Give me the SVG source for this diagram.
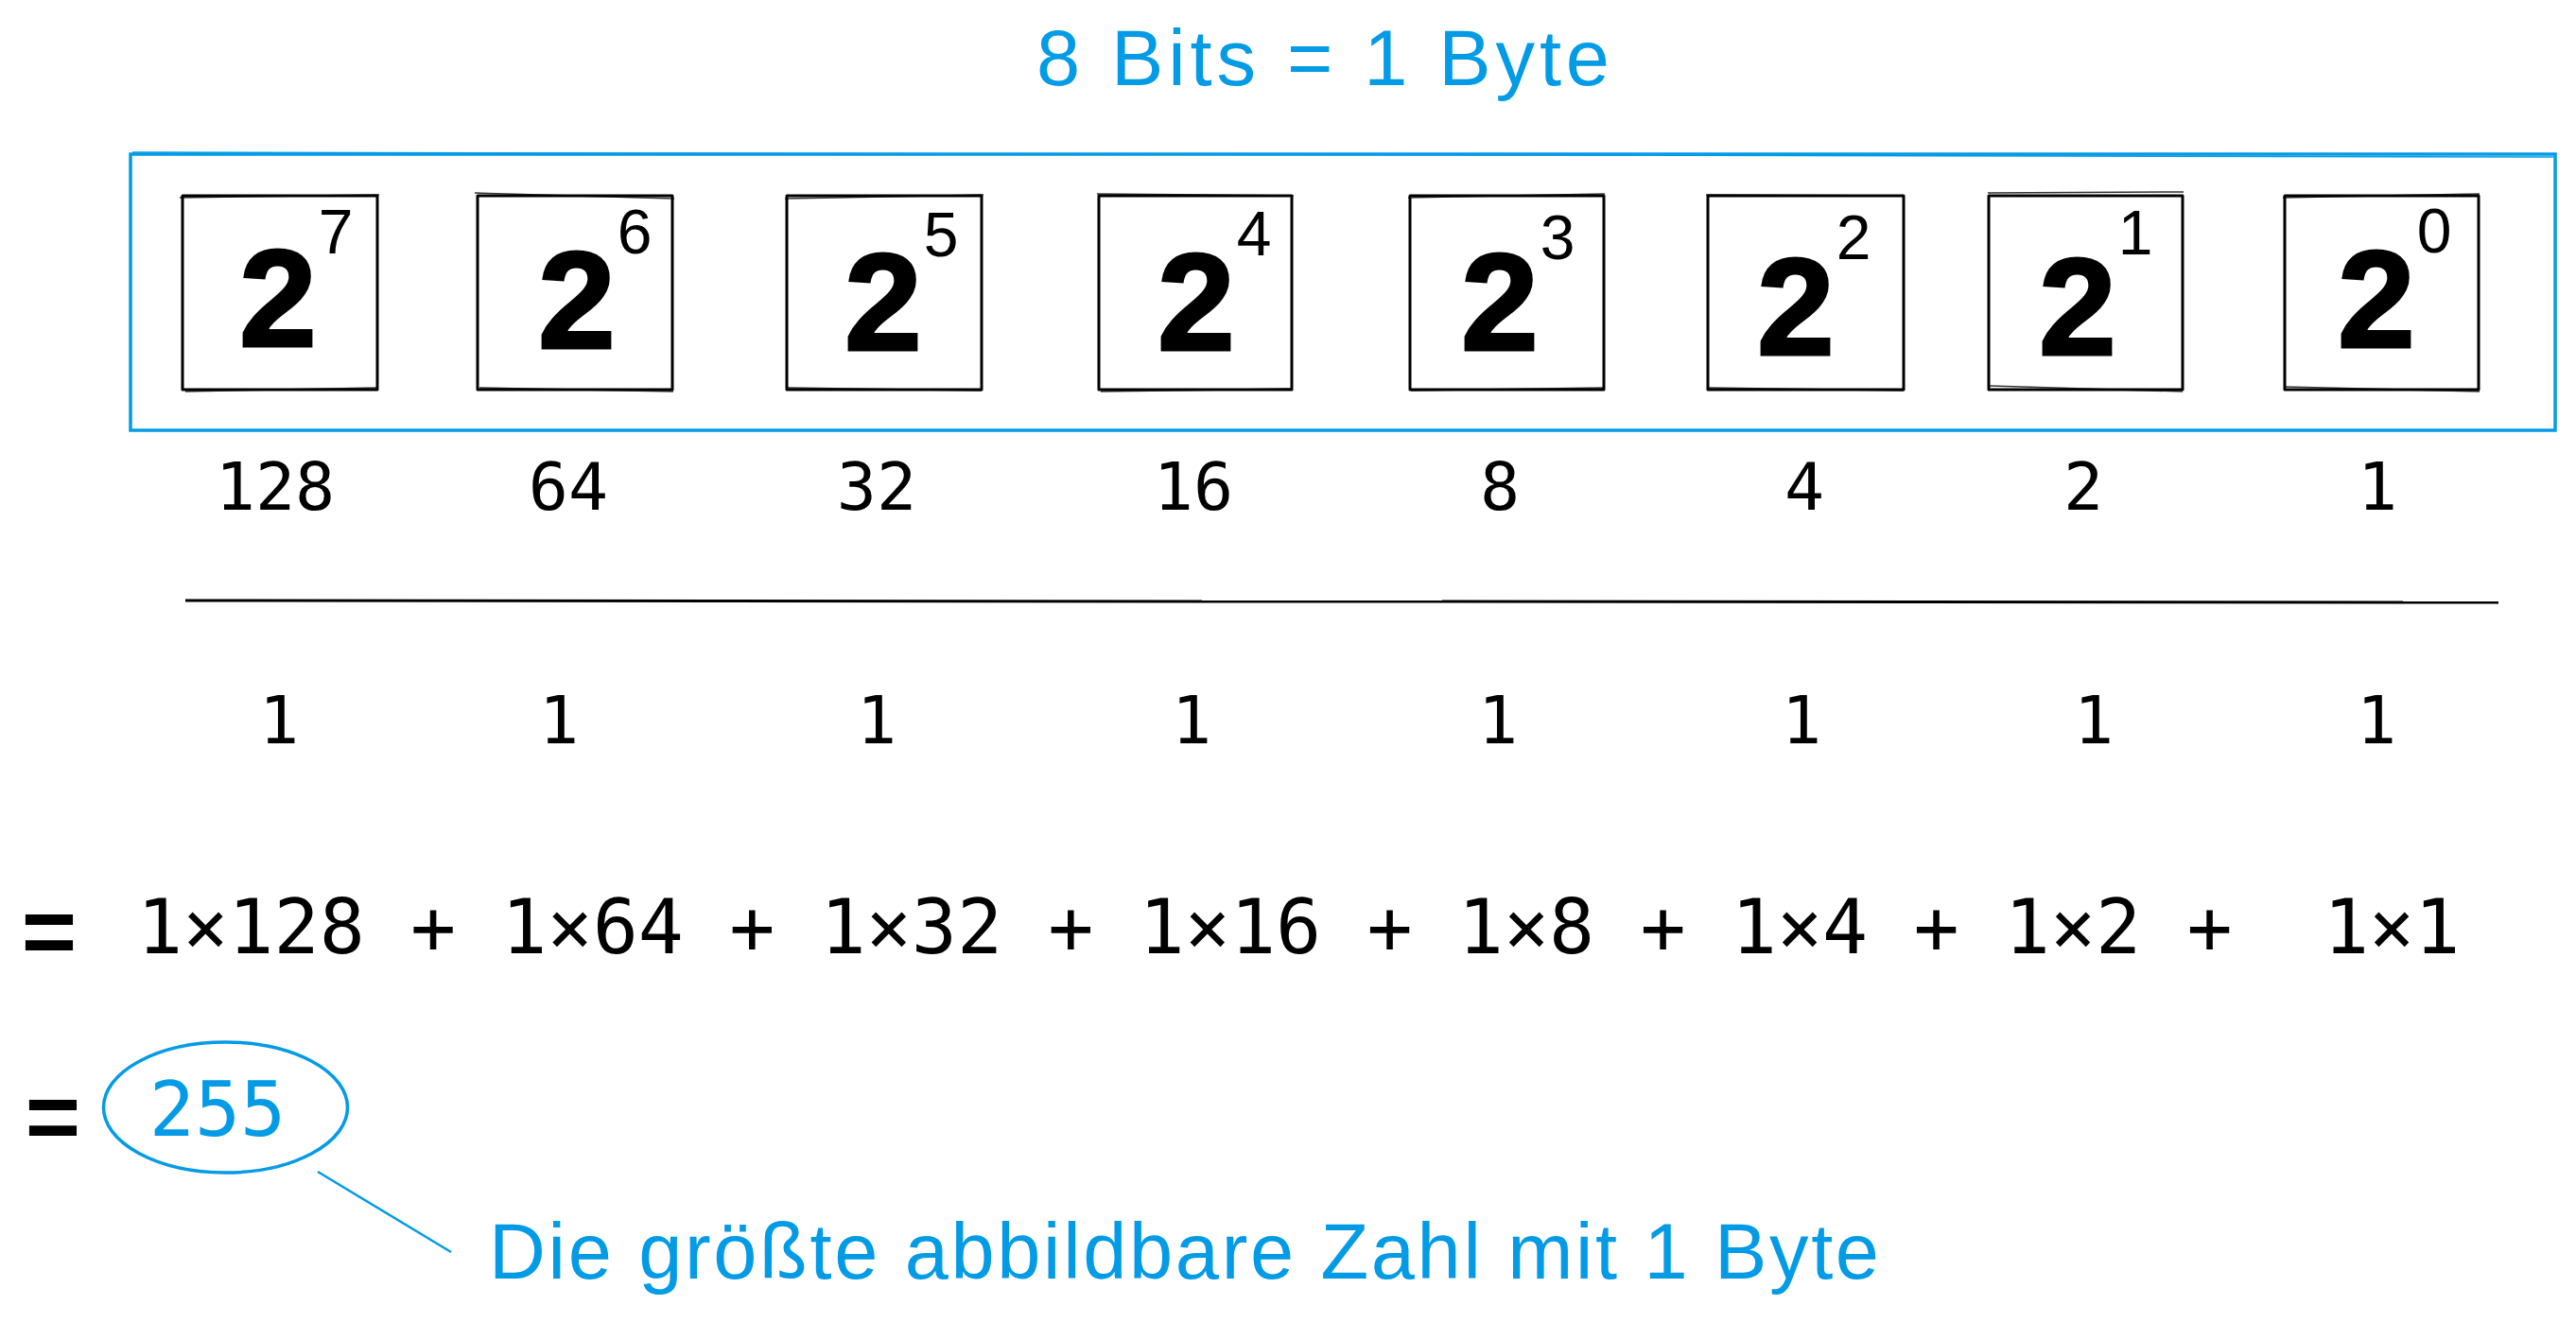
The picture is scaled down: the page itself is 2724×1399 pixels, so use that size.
<svg xmlns="http://www.w3.org/2000/svg" width="2724" height="1399" viewBox="0 0 2724 1399">
<style>
.bg{fill:#ffffff}
.box{fill:none;stroke:#000;stroke-width:3;stroke-linejoin:round}
.box2{fill:none;stroke:#000;stroke-width:1.5;opacity:0.8}
.blue{fill:none;stroke:#039be5;stroke-width:3.5}
.two{font-family:"Liberation Sans",Arial,sans-serif;font-weight:bold;font-size:147px;fill:#000;stroke:#000;stroke-width:3}
.exp{font-family:"Liberation Sans",Arial,sans-serif;font-weight:normal;font-size:66px;fill:#000;stroke:none}
.num{font-family:"DejaVu Sans Mono",monospace;font-size:70px;fill:#000;text-anchor:middle}
.eq{font-family:"DejaVu Sans Mono",monospace;font-size:80px;fill:#000;white-space:pre}
.hand{font-family:"Liberation Sans",Arial,sans-serif;font-size:83px;fill:#039be5;white-space:pre}
.eqs{font-family:"Liberation Sans",Arial,sans-serif;font-weight:bold;font-size:100px;fill:#000;text-anchor:middle}
</style>
<rect class="bg" x="0" y="0" width="2724" height="1399"/>
<g id="title"><text class="hand" x="1096" y="90" textLength="606" lengthAdjust="spacing">8 Bits = 1 Byte</text></g>
<g id="byte-frame"><rect class="blue" x="138" y="163" width="2564" height="292"/><path class="blue" d="M140 161 L2700 166" style="stroke-width:1.5"/></g>
<g id="bit7"><rect class="box" x="193" y="207" width="206" height="205"/><path class="box2" d="M190 209 L401 206 M196 414 L399 410"/><text class="two" x="253" y="366">2<tspan class="exp" dx="2" dy="-98">7</tspan></text></g>
<g id="bit6"><rect class="box" x="505" y="207" width="206" height="205"/><path class="box2" d="M502 204 L713 210 M507 410 L712 414"/><text class="two" x="569" y="368">2<tspan class="exp" dx="2" dy="-100">6</tspan></text></g>
<g id="bit5"><rect class="box" x="832" y="207" width="206" height="205"/><path class="box2" d="M830 210 L1040 206 M833 410 L1038 413"/><text class="two" x="893" y="370">2<tspan class="exp" dx="2" dy="-99">5</tspan></text></g>
<g id="bit4"><rect class="box" x="1162" y="207" width="204" height="205"/><path class="box2" d="M1160 205 L1368 207 M1164 414 L1366 411"/><text class="two" x="1224" y="370">2<tspan class="exp" dx="2" dy="-100">4</tspan></text></g>
<g id="bit3"><rect class="box" x="1491" y="207" width="205" height="205"/><path class="box2" d="M1489 209 L1697 205 M1492 413 L1697 410"/><text class="two" x="1545" y="370">2<tspan class="exp" dx="2" dy="-96">3</tspan></text></g>
<g id="bit2"><rect class="box" x="1806" y="207" width="207" height="205"/><path class="box2" d="M1804 206 L2014 207 M1806 410 L2013 413"/><text class="two" x="1858" y="375">2<tspan class="exp" dx="2" dy="-101">2</tspan></text></g>
<g id="bit1"><rect class="box" x="2103" y="207" width="205" height="205"/><path class="box2" d="M2102 204 L2309 203 M2104 408 L2308 414"/><text class="two" x="2156" y="375">2<tspan class="exp" dx="2" dy="-106">1</tspan></text></g>
<g id="bit0"><rect class="box" x="2416" y="207" width="205" height="205"/><path class="box2" d="M2414 209 L2622 205 M2416 409 L2622 414"/><text class="two" x="2472" y="367">2<tspan class="exp" dx="2" dy="-100">0</tspan></text></g>
<g id="values">
<text class="num" x="291" y="539">128</text>
<text class="num" x="601" y="539">64</text>
<text class="num" x="927" y="539">32</text>
<text class="num" x="1262" y="539">16</text>
<text class="num" x="1586" y="539">8</text>
<text class="num" x="1908" y="539">4</text>
<text class="num" x="2203" y="539">2</text>
<text class="num" x="2514" y="539">1</text>
</g>
<g id="rule"><path d="M196 635 L2642 637" fill="none" stroke="#000" stroke-width="3"/></g>
<g id="bits">
<text class="num" x="295" y="786">1</text>
<text class="num" x="591" y="786">1</text>
<text class="num" x="927" y="786">1</text>
<text class="num" x="1260" y="786">1</text>
<text class="num" x="1584" y="786">1</text>
<text class="num" x="1905" y="786">1</text>
<text class="num" x="2214" y="786">1</text>
<text class="num" x="2513" y="786">1</text>
</g>
<g id="sum">
<text class="eqs" x="52" y="1019">=</text>
<text class="eq" x="145" y="1008" xml:space="preserve">1×128 + 1×64 + 1×32 + 1×16 + 1×8 + 1×4 + 1×2 +  1×1</text>
</g>
<g id="result">
<text class="eqs" x="56" y="1215">=</text>
<ellipse class="blue" cx="238.5" cy="1171" rx="129" ry="69"/>
<text class="num" x="230" y="1201" style="font-size:80px;fill:#039be5">255</text>
</g>
<g id="note"><text class="hand" x="517" y="1352" textLength="1470" lengthAdjust="spacing">Die größte abbildbare Zahl mit 1 Byte</text></g>
<g id="connectors"><path d="M336 1239 L477 1324" fill="none" stroke="#039be5" stroke-width="2.5"/></g>
</svg>
